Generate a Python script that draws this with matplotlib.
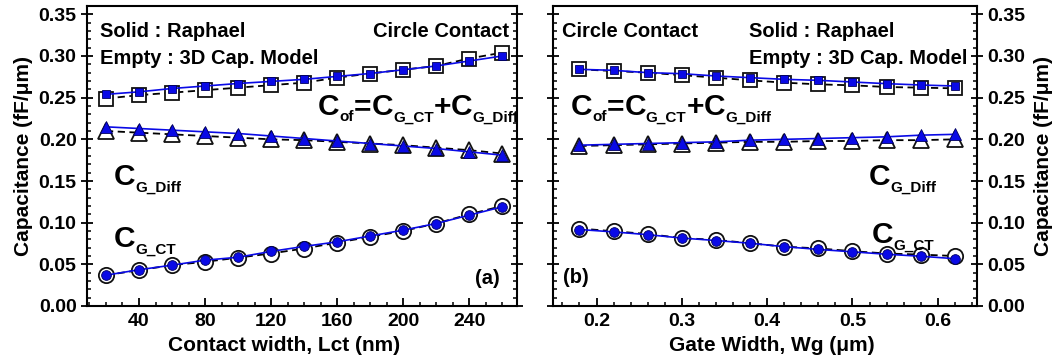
import matplotlib
matplotlib.use("Agg")
import matplotlib.pyplot as plt
from matplotlib.ticker import MultipleLocator, FormatStrFormatter
from matplotlib.transforms import offset_copy

plt.rcParams['font.family'] = ['Liberation Sans', 'DejaVu Sans']
plt.rcParams['font.weight'] = 'bold'

# ---------------- data: panel (a) ----------------
lct = [20, 40, 60, 80, 100, 120, 140, 160, 180, 200, 220, 240, 260]
cof_raph_a = [0.254, 0.257, 0.261, 0.264, 0.267, 0.2695, 0.272, 0.2755, 0.279, 0.2835, 0.288, 0.294, 0.300]
cof_model_a = [0.249, 0.253, 0.256, 0.259, 0.262, 0.265, 0.268, 0.274, 0.279, 0.2835, 0.288, 0.297, 0.304]
diff_raph_a = [0.215, 0.213, 0.211, 0.209, 0.207, 0.204, 0.201, 0.198, 0.195, 0.192, 0.189, 0.185, 0.181]
diff_model_a = [0.210, 0.208, 0.206, 0.204, 0.202, 0.200, 0.199, 0.197, 0.195, 0.193, 0.190, 0.187, 0.183]
ct_raph_a = [0.037, 0.0435, 0.049, 0.055, 0.0585, 0.0655, 0.0715, 0.077, 0.084, 0.091, 0.099, 0.109, 0.119]
ct_model_a = [0.037, 0.043, 0.049, 0.053, 0.058, 0.063, 0.069, 0.076, 0.083, 0.090, 0.099, 0.110, 0.120]

# ---------------- data: panel (b) ----------------
wg = [0.18, 0.22, 0.26, 0.30, 0.34, 0.38, 0.42, 0.46, 0.50, 0.54, 0.58, 0.62]
cof_raph_b = [0.284, 0.2828, 0.280, 0.2788, 0.276, 0.274, 0.272, 0.2708, 0.2688, 0.2668, 0.2652, 0.264]
cof_model_b = [0.284, 0.282, 0.280, 0.277, 0.274, 0.2708, 0.268, 0.266, 0.2648, 0.2628, 0.262, 0.2612]
diff_raph_b = [0.193, 0.194, 0.195, 0.196, 0.197, 0.199, 0.200, 0.201, 0.202, 0.203, 0.205, 0.206]
diff_model_b = [0.192, 0.193, 0.194, 0.195, 0.196, 0.197, 0.197, 0.198, 0.198, 0.199, 0.199, 0.200]
ct_raph_b = [0.0918, 0.0889, 0.0856, 0.0815, 0.0786, 0.0753, 0.0712, 0.0679, 0.065, 0.0621, 0.0597, 0.0568]
ct_model_b = [0.093, 0.0897, 0.0864, 0.0815, 0.0794, 0.0753, 0.0712, 0.0691, 0.0658, 0.063, 0.0617, 0.060]

xticks_a = [40, 80, 120, 160, 200, 240]
xticks_b = [0.2, 0.3, 0.4, 0.5, 0.6]

BLUE = '#0a0ae6'

fig = plt.figure(figsize=(10.64, 3.6), dpi=100)
axA = fig.add_axes([87/1064, 54/360, 430/1064, 300/360])
axB = fig.add_axes([553/1064, 54/360, 424/1064, 300/360])
renderer = fig.canvas.get_renderer()


def draw(ax, x, model, raph, marker, ms_e, ms_s):
    ax.plot(x, model, linestyle=(0, (4, 2.5)), color='black', lw=1.3,
            marker=marker, ms=ms_e, mfc='white', mec='#111111', mew=1.3, zorder=3)
    ax.plot(x, raph, linestyle='-', color=BLUE, lw=1.2,
            marker=marker, ms=ms_s, mfc=BLUE, mec='#000060', mew=0.6, zorder=4)


for ax, x, sets in [
    (axA, lct, [(cof_model_a, cof_raph_a, 's'), (diff_model_a, diff_raph_a, '^'), (ct_model_a, ct_raph_a, 'o')]),
    (axB, wg, [(cof_model_b, cof_raph_b, 's'), (diff_model_b, diff_raph_b, '^'), (ct_model_b, ct_raph_b, 'o')]),
]:
    for model, raph, m in sets:
        if m == 's':
            draw(ax, x, model, raph, m, 10, 5.5)
        elif m == '^':
            draw(ax, x, model, raph, m, 11.5, 8.5)
        else:
            draw(ax, x, model, raph, m, 11, 7)

for ax in (axA, axB):
    ax.set_ylim(0, 0.36)
    ax.yaxis.set_major_locator(MultipleLocator(0.05))
    ax.yaxis.set_minor_locator(MultipleLocator(0.01))
    ax.yaxis.set_major_formatter(FormatStrFormatter('%.2f'))
    for s in ax.spines.values():
        s.set_linewidth(1.5)
    ax.tick_params(axis='both', which='major', labelsize=14, width=1.3)
    ax.tick_params(axis='x', which='both', direction='in', top=False, bottom=True)
    ax.tick_params(axis='x', which='major', length=6, pad=5)
    ax.tick_params(axis='x', which='minor', length=3, width=1.1)
    ax.tick_params(axis='y', which='major', direction='inout', length=8, left=True, right=True)
    ax.tick_params(axis='y', which='minor', direction='in', length=3, width=1.1, left=True, right=True)

axA.set_xlim(8.5, 269)
axA.set_xticks(xticks_a)
axA.xaxis.set_minor_locator(MultipleLocator(10))
axA.tick_params(axis='y', labelleft=True, labelright=False)
axA.set_xlabel('Contact width, Lct (nm)', fontsize=15, fontweight='bold', labelpad=2)
axA.xaxis.set_label_coords(0.458, -0.10)
axA.set_ylabel('Capacitance (fF/\u03bcm)', fontsize=15, fontweight='bold', labelpad=4)

axB.set_xlim(0.149, 0.646)
axB.set_xticks(xticks_b)
axB.xaxis.set_minor_locator(MultipleLocator(0.02))
axB.xaxis.set_major_formatter(FormatStrFormatter('%.1f'))
axB.tick_params(axis='y', labelleft=False, labelright=True)
axB.yaxis.set_label_position('right')
axB.set_xlabel('Gate Width, Wg (\u03bcm)', fontsize=15, fontweight='bold', labelpad=2)
axB.xaxis.set_label_coords(0.516, -0.10)
axB.set_ylabel('Capacitance (fF/\u03bcm)', fontsize=15, fontweight='bold', labelpad=6)

TF = dict(fontsize=14.5, fontweight='bold', va='baseline')
SBIG = 21.5
SSUB = 11
SUB_DY = -6.5


def rich(ax, xf, yf, pieces, clip=False):
    """pieces: list of (text, is_sub). Placed sequentially from the axes-fraction point."""
    dx = 0.0
    for txt, sub in pieces:
        tr = offset_copy(ax.transAxes, fig=fig, x=dx, y=(SUB_DY if sub else 0), units='dots')
        t = ax.text(xf, yf, txt, transform=tr, ha='left', va='baseline',
                    fontsize=(SSUB if sub else SBIG), fontweight='bold', clip_on=clip)
        bb = t.get_window_extent(renderer)
        dx += bb.width


COF = [('C', False), ('of', True), ('=', False), ('C', False), ('G_CT', True),
       ('+', False), ('C', False), ('G_Diff', True)]
CDIFF = [('C', False), ('G_Diff', True)]
CCT = [('C', False), ('G_CT', True)]

# panel (a) annotations
axA.text(0.030, 0.898, 'Solid : Raphael', transform=axA.transAxes, ha='left', **TF)
axA.text(0.030, 0.807, 'Empty : 3D Cap. Model', transform=axA.transAxes, ha='left', **TF)
axA.text(0.981, 0.898, 'Circle Contact', transform=axA.transAxes, ha='right', **TF)
rich(axA, 0.537, 0.637, COF, clip=True)
rich(axA, 0.063, 0.403, CDIFF)
rich(axA, 0.063, 0.197, CCT)
axA.text(0.960, 0.073, '(a)', transform=axA.transAxes, ha='right', **TF)

# panel (b) annotations
axB.text(0.021, 0.898, 'Circle Contact', transform=axB.transAxes, ha='left', **TF)
axB.text(0.462, 0.898, 'Solid : Raphael', transform=axB.transAxes, ha='left', **TF)
axB.text(0.462, 0.807, 'Empty : 3D Cap. Model', transform=axB.transAxes, ha='left', **TF)
rich(axB, 0.042, 0.637, COF)
rich(axB, 0.745, 0.403, CDIFF)
rich(axB, 0.752, 0.21, CCT)
axB.text(0.024, 0.077, '(b)', transform=axB.transAxes, ha='left', **TF)

fig.savefig('out.png', dpi=100)
